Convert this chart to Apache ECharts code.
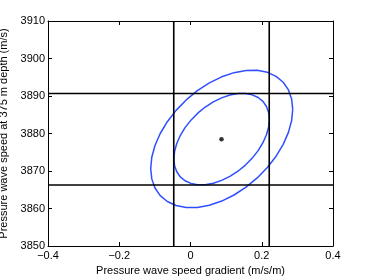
<!DOCTYPE html>
<html><head><meta charset="utf-8">
<script src="https://cdn.jsdelivr.net/npm/echarts@6/dist/echarts.min.js"></script>
<style>html,body{margin:0;padding:0;background:#fff}#c{width:368px;height:277px}</style>
</head><body><div id="c"></div>
<script>
// Axis ticks
const xTicks = [-0.4, -0.2, 0, 0.2, 0.4];
const yTicks = [3850, 3860, 3870, 3880, 3890, 3900, 3910];
const xTickLabels = ['\u22120.4', '\u22120.2', '0', '0.2', '0.4'];
const yTickLabels = ['3850', '3860', '3870', '3880', '3890', '3900', '3910'];
const xName = 'Pressure wave speed gradient (m/s/m)';
const yName = 'Pressure wave speed at 375 m depth (m/s)';

// Estimate (dot)
const centerPoint = [0.087, 3878.5];

// Outer contour
const outerX = [0.2869, 0.2839, 0.2749, 0.2602, 0.2403, 0.2157, 0.1873, 0.1558, 0.1222,
                0.0876, 0.0530, 0.0194, -0.0121, -0.0405, -0.0651, -0.0850, -0.0997, -0.1087,
                -0.1117, -0.1087, -0.0997, -0.0850, -0.0651, -0.0405, -0.0121, 0.0194, 0.0530,
                0.0876, 0.1222, 0.1558, 0.1873, 0.2157, 0.2403, 0.2602, 0.2749, 0.2839];
const outerY = [3886.44, 3889.20, 3891.63, 3893.67, 3895.24, 3896.31, 3896.84, 3896.82, 3896.23,
                3895.12, 3893.50, 3891.42, 3888.95, 3886.17, 3883.15, 3880.00, 3876.80, 3873.65,
                3870.66, 3867.90, 3865.47, 3863.43, 3861.86, 3860.79, 3860.26, 3860.28, 3860.87,
                3861.98, 3863.60, 3865.68, 3868.15, 3870.93, 3873.95, 3877.10, 3880.30, 3883.45];

// Inner contour
const innerX = [0.2213, 0.2193, 0.2132, 0.2033, 0.1899, 0.1734, 0.1543, 0.1331, 0.1106,
                0.0873, 0.0640, 0.0415, 0.0203, 0.0012, -0.0153, -0.0287, -0.0386, -0.0447,
                -0.0467, -0.0447, -0.0386, -0.0287, -0.0153, 0.0012, 0.0203, 0.0415, 0.0640,
                0.0873, 0.1106, 0.1331, 0.1543, 0.1734, 0.1899, 0.2033, 0.2132, 0.2193];
const innerY = [3883.75, 3885.58, 3887.20, 3888.55, 3889.60, 3890.31, 3890.66, 3890.65, 3890.26,
                3889.51, 3888.44, 3887.06, 3885.42, 3883.56, 3881.56, 3879.46, 3877.34, 3875.25,
                3873.25, 3871.42, 3869.80, 3868.45, 3867.40, 3866.69, 3866.34, 3866.35, 3866.74,
                3867.49, 3868.56, 3869.94, 3871.58, 3873.44, 3875.44, 3877.54, 3879.66, 3881.75];

// Bound lines
const vLines = [-0.047, 0.221];
const hLines = [3866.25, 3890.67];

const xMin = xTicks[0], xMax = xTicks[xTicks.length - 1];
const yMin = yTicks[0], yMax = yTicks[yTicks.length - 1];

function closed(xs, ys) {
  const d = xs.map((x, i) => [x, ys[i]]);
  d.push(d[0]);
  return d;
}
function labelFor(ticks, labels) {
  return v => { const i = ticks.findIndex(t => Math.abs(t - v) < 1e-9); return i >= 0 ? labels[i] : ''; };
}

const font = "'Liberation Sans', Arial, Helvetica, sans-serif";
const blue = '#2f4fff';

const series = [];
series.push({ type: 'line', data: closed(outerX, outerY), showSymbol: false, symbol: 'none',
  lineStyle: { color: blue, width: 1.5, join: 'round' }, silent: true, animation: false, z: 3 });
series.push({ type: 'line', data: closed(innerX, innerY), showSymbol: false, symbol: 'none',
  lineStyle: { color: blue, width: 1.5, join: 'round' }, silent: true, animation: false, z: 3 });
vLines.forEach(v => series.push({ type: 'line', data: [[v, yMin], [v, yMax]], symbol: 'none',
  lineStyle: { color: '#000', width: 1.6 }, animation: false, z: 4 }));
hLines.forEach(h => series.push({ type: 'line', data: [[xMin, h], [xMax, h]], symbol: 'none',
  lineStyle: { color: '#000', width: 1.6 }, animation: false, z: 4 }));
series.push({ type: 'scatter', data: [centerPoint], symbolSize: 4.5,
  itemStyle: { color: '#000' }, animation: false, z: 5 });

const axisCommon = {
  axisLine: { show: true, onZero: false, lineStyle: { color: '#000', width: 1 } },
  axisTick: { show: true, inside: true, length: 4, lineStyle: { color: '#000', width: 1 } },
  splitLine: { show: false }
};

const chart = echarts.init(document.getElementById('c'), null, { renderer: 'canvas' });
chart.setOption({
  animation: false,
  backgroundColor: '#fff',
  grid: { left: 48, right: 35, top: 21, bottom: 31, containLabel: false, outerBoundsMode: 'none' },
  xAxis: [
    Object.assign({ type: 'value', min: xMin, max: xMax, interval: 0.2, position: 'bottom',
      axisLabel: { color: '#000', fontSize: 11, fontFamily: font, margin: 4, formatter: labelFor(xTicks, xTickLabels) },
      name: xName, nameLocation: 'middle', nameGap: 15,
      nameTextStyle: { color: '#000', fontSize: 11, fontFamily: font } }, axisCommon),
    Object.assign({ type: 'value', min: xMin, max: xMax, interval: 0.2, position: 'top',
      axisLabel: { show: false } }, axisCommon)
  ],
  yAxis: [
    Object.assign({ type: 'value', min: yMin, max: yMax, interval: 10, position: 'left',
      axisLabel: { color: '#000', fontSize: 11, fontFamily: font, margin: 3, formatter: labelFor(yTicks, yTickLabels) },
      name: yName, nameLocation: 'middle', nameGap: 29,
      nameTextStyle: { color: '#000', fontSize: 11, fontFamily: font } }, axisCommon),
    Object.assign({ type: 'value', min: yMin, max: yMax, interval: 10, position: 'right',
      axisLabel: { show: false } }, axisCommon)
  ],
  series: series
});
</script>
</body></html>
